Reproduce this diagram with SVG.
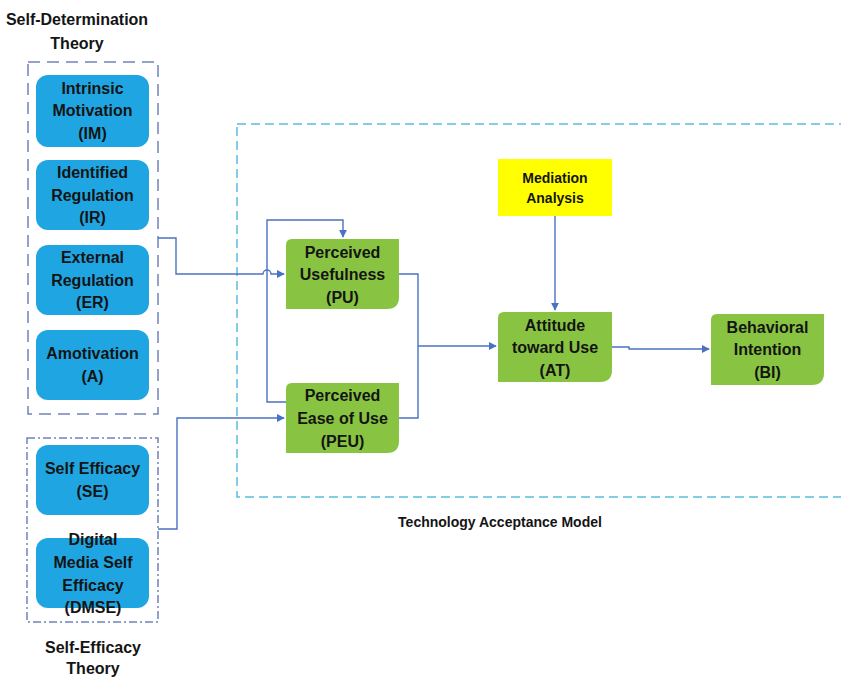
<svg xmlns="http://www.w3.org/2000/svg" width="841" height="677" viewBox="0 0 841 677">
<defs>
<style>
.t{font-family:"Liberation Sans",Arial,sans-serif;font-weight:bold;fill:#141414;text-anchor:middle}
.n{font-size:16px}
.ttl{font-size:16px}
.blue{fill:#1fa6e2}
.green{fill:#88c442}
.c{fill:none;stroke:#4a72c4;stroke-width:1.4}
</style>
<marker id="ah" viewBox="0 0 10 10" refX="9" refY="5" markerWidth="8" markerHeight="8" markerUnits="userSpaceOnUse" orient="auto"><path d="M0,0 L10,5 L0,10 z" fill="#4a72c4"/></marker>
</defs>
<rect width="841" height="677" fill="#ffffff"/>

<g id="sdt-group">
<rect x="28" y="62" width="130" height="352" fill="none" stroke="#7282bd" stroke-width="1.5" stroke-dasharray="12,7"/>
<text class="t ttl" x="77" y="25">Self-Determination</text>
<text class="t ttl" x="77" y="49">Theory</text>
</g>
<g id="set-group">
<rect x="27" y="438" width="131" height="184" fill="none" stroke="#7282bd" stroke-width="1.5" stroke-dasharray="8,3,2,3"/>
<text class="t ttl" x="93" y="653">Self-Efficacy</text>
<text class="t ttl" x="93" y="674">Theory</text>
</g>
<g id="tam-group">
<rect x="237" y="124" width="620" height="373" fill="none" stroke="#5bbde0" stroke-width="1.5" stroke-dasharray="9,5"/>
<text class="t" style="font-size:14px" x="500" y="527">Technology Acceptance Model</text>
</g>

<g id="connectors">
<path class="c" d="M158,238 H176 V274 H263 a4,4 0 0 1 8,0 H284" marker-end="url(#ah)"/>
<path class="c" d="M158,529 H177 V418 H284" marker-end="url(#ah)"/>
<path class="c" d="M286,402 H267 V220 H343 V237" marker-end="url(#ah)"/>
<path class="c" d="M399,274 H418 V418 H399"/>
<path class="c" d="M418,346 H496" marker-end="url(#ah)"/>
<path class="c" d="M555,216 V310" marker-end="url(#ah)"/>
<path class="c" d="M612,347 H629 V349 H709" marker-end="url(#ah)"/>
</g>

<g id="IM">
<rect class="blue" x="36" y="75" width="113" height="72" rx="12"/>
<text class="t n" x="92.5" y="94">Intrinsic</text>
<text class="t n" x="92.5" y="116">Motivation</text>
<text class="t n" x="92.5" y="139">(IM)</text>
</g>
<g id="IR">
<rect class="blue" x="36" y="160" width="113" height="70" rx="12"/>
<text class="t n" x="92.5" y="178">Identified</text>
<text class="t n" x="92.5" y="201">Regulation</text>
<text class="t n" x="92.5" y="223">(IR)</text>
</g>
<g id="ER">
<rect class="blue" x="36" y="245" width="113" height="70" rx="12"/>
<text class="t n" x="92.5" y="263">External</text>
<text class="t n" x="92.5" y="286">Regulation</text>
<text class="t n" x="92.5" y="308">(ER)</text>
</g>
<g id="A">
<rect class="blue" x="36" y="330" width="113" height="70" rx="12"/>
<text class="t n" x="92.5" y="359">Amotivation</text>
<text class="t n" x="92.5" y="382">(A)</text>
</g>
<g id="SE">
<rect class="blue" x="36" y="445" width="113" height="70" rx="12"/>
<text class="t n" x="92.5" y="474">Self Efficacy</text>
<text class="t n" x="92.5" y="497">(SE)</text>
</g>
<g id="DMSE">
<rect class="blue" x="36" y="538" width="113" height="70" rx="12"/>
<text class="t n" x="93" y="545">Digital</text>
<text class="t n" x="93" y="568">Media Self</text>
<text class="t n" x="93" y="591">Efficacy</text>
<text class="t n" x="93" y="613">(DMSE)</text>
</g>

<g id="PU">
<path class="green" d="M292,239 H399 V297 Q399,309 387,309 H286 V245 Q286,239 292,239 Z"/>
<text class="t n" x="342.5" y="258">Perceived</text>
<text class="t n" x="342.5" y="280">Usefulness</text>
<text class="t n" x="342.5" y="303">(PU)</text>
</g>
<g id="PEU">
<path class="green" d="M292,383 H399 V441 Q399,453 387,453 H286 V389 Q286,383 292,383 Z"/>
<text class="t n" x="342.5" y="401">Perceived</text>
<text class="t n" x="342.5" y="424">Ease of Use</text>
<text class="t n" x="342.5" y="447">(PEU)</text>
</g>
<g id="MA">
<rect x="498" y="159" width="114" height="57" fill="#ffff00"/>
<text class="t" style="font-size:14px" x="555" y="183">Mediation</text>
<text class="t" style="font-size:14px" x="555" y="203">Analysis</text>
</g>
<g id="AT">
<path class="green" d="M504,312 H612 V370 Q612,382 600,382 H498 V318 Q498,312 504,312 Z"/>
<text class="t n" x="555" y="331">Attitude</text>
<text class="t n" x="555" y="353">toward Use</text>
<text class="t n" x="555" y="376">(AT)</text>
</g>
<g id="BI">
<path class="green" d="M717,314 H824 V373 Q824,385 812,385 H711 V320 Q711,314 717,314 Z"/>
<text class="t n" x="767.5" y="333">Behavioral</text>
<text class="t n" x="767.5" y="355">Intention</text>
<text class="t n" x="767.5" y="378">(BI)</text>
</g>
</svg>
